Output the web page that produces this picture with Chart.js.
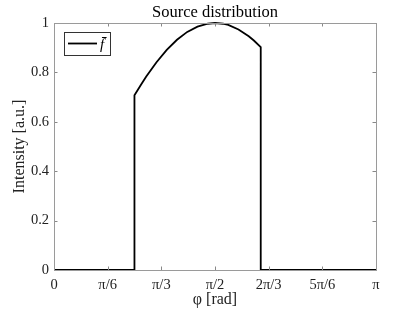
<!DOCTYPE html>
<html>
<head>
<meta charset="utf-8">
<script src="https://cdn.jsdelivr.net/npm/chart.js@4.4.1/dist/chart.umd.min.js"></script>
<style>
html,body{margin:0;padding:0;background:#fff;}
#wrap{width:415px;height:312px;position:relative;}
</style>
</head>
<body>
<div id="wrap"><canvas id="c" width="415" height="312"></canvas></div>
<script>
// Data
const phi = [0, 0.785, 0.785, 0.85, 0.9, 1.0, 1.1, 1.2, 1.3, 1.4, 1.5, 1.571, 1.65, 1.7, 1.8, 1.9, 1.95, 2.017, 2.017, 3.1416];
const intensity = [0, 0, 0.707, 0.751, 0.783, 0.841, 0.891, 0.932, 0.964, 0.985, 0.997, 1.0, 0.997, 0.992, 0.974, 0.946, 0.929, 0.902, 0, 0];
const xTickValues = [0, Math.PI/6, Math.PI/3, Math.PI/2, 2*Math.PI/3, 5*Math.PI/6, Math.PI];
const xTickLabels = ['0', 'π/6', 'π/3', 'π/2', '2π/3', '5π/6', 'π'];
const yTickValues = [0, 0.2, 0.4, 0.6, 0.8, 1];
const yTickLabels = ['0', '0.2', '0.4', '0.6', '0.8', '1'];
const seriesName = 'f̄';
const titleText = 'Source distribution';
const xTitle = 'φ [rad]';
const yTitle = 'Intensity [a.u.]';

const FONT = "'Liberation Serif', 'DejaVu Serif', serif";

const points = phi.map((x, i) => ({x: x, y: intensity[i]}));

const boxPlugin = {
  id: 'boxPlugin',
  afterDraw(chart) {
    const ctx = chart.ctx;
    const a = chart.chartArea;
    const xs = chart.scales.x, ys = chart.scales.y;
    ctx.save();
    ctx.strokeStyle = '#888';
    ctx.lineWidth = 1;
    const tl = 3.5;
    xTickValues.forEach(v => {
      const px = Math.round(xs.getPixelForValue(v)) + 0.5;
      ctx.beginPath();
      ctx.moveTo(px, a.bottom); ctx.lineTo(px, a.bottom - tl);
      ctx.moveTo(px, a.top); ctx.lineTo(px, a.top + tl);
      ctx.stroke();
    });
    yTickValues.forEach(v => {
      const py = Math.round(ys.getPixelForValue(v)) + 0.5;
      ctx.beginPath();
      ctx.moveTo(a.left, py); ctx.lineTo(a.left + tl, py);
      ctx.moveTo(a.right, py); ctx.lineTo(a.right - tl, py);
      ctx.stroke();
    });
    ctx.strokeStyle = '#9a9a9a';
    ctx.strokeRect(Math.round(a.left) + 0.5, Math.round(a.top) + 0.5, Math.round(a.right - a.left), Math.round(a.bottom - a.top));
    ctx.restore();
  }
};

const overlayPlugin = {
  id: 'overlayPlugin',
  afterDatasetsDraw(chart) {
    const ctx = chart.ctx;
    const a = chart.chartArea;
    ctx.save();
    ctx.fillStyle = '#000';
    ctx.font = "16.5px " + FONT;
    ctx.textAlign = 'center';
    ctx.textBaseline = 'alphabetic';
    ctx.fillText(titleText, (a.left + a.right) / 2, 17);
    const lx = 64.5, ly = 32.5, lw = 46, lh = 23;
    ctx.fillStyle = '#fff';
    ctx.fillRect(lx, ly, lw, lh);
    ctx.strokeStyle = '#333';
    ctx.lineWidth = 1;
    ctx.strokeRect(lx, ly, lw, lh);
    ctx.strokeStyle = '#000';
    ctx.lineWidth = 1.8;
    ctx.beginPath();
    ctx.moveTo(68, 43.5); ctx.lineTo(97, 43.5);
    ctx.stroke();
    ctx.fillStyle = '#000';
    ctx.font = "italic 15px " + FONT;
    ctx.textAlign = 'left';
    ctx.fillText(seriesName, 100, 49);
    ctx.restore();
  }
};

new Chart(document.getElementById('c'), {
  type: 'scatter',
  data: {
    datasets: [{
      label: seriesName,
      data: points,
      showLine: true,
      borderColor: '#000',
      backgroundColor: '#000',
      borderWidth: 1.8,
      pointRadius: 0,
      tension: 0,
      clip: 3
    }]
  },
  options: {
    responsive: false,
    animation: false,
    devicePixelRatio: 1,
    layout: { padding: { left: 0, right: 39, top: 23, bottom: 0 } },
    plugins: {
      legend: { display: false },
      title: { display: false },
      tooltip: { enabled: false }
    },
    scales: {
      x: {
        type: 'linear',
        min: 0, max: Math.PI,
        afterBuildTicks(scale) { scale.ticks = xTickValues.map(v => ({value: v})); },
        afterFit(scale) { scale.height = 42; },
        grid: { display: false, drawTicks: false },
        border: { display: false },
        ticks: {
          autoSkip: false, maxRotation: 0, padding: 6,
          color: '#222',
          font: { family: FONT, size: 14.5 },
          callback(v, i) { return xTickLabels[i]; }
        },
        title: {
          display: true, text: xTitle, color: '#222',
          font: { family: FONT, size: 16 }, padding: { top: 0, bottom: 3 }
        }
      },
      y: {
        min: 0, max: 1,
        afterBuildTicks(scale) { scale.ticks = yTickValues.map(v => ({value: v})); },
        afterFit(scale) { scale.width = 54; },
        grid: { display: false, drawTicks: false },
        border: { display: false },
        ticks: {
          autoSkip: false, padding: 5,
          color: '#222',
          font: { family: FONT, size: 14.5 },
          callback(v, i) { return yTickLabels[i]; }
        },
        title: {
          display: true, text: yTitle, color: '#222',
          font: { family: FONT, size: 16 }, padding: { top: 10, bottom: 0 }
        }
      }
    }
  },
  plugins: [boxPlugin, overlayPlugin]
});
</script>
</body>
</html>
